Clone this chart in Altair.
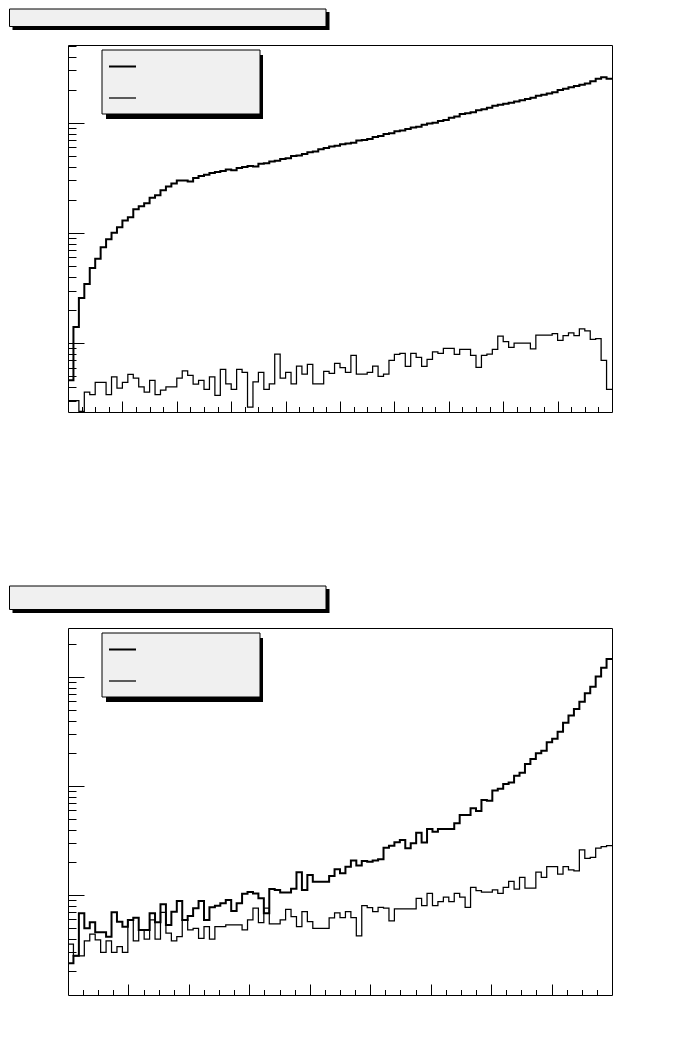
import altair as alt
import numpy as np
import pandas as pd

# ---------------- data (bin contents, 100 bins per histogram) ----------------
thick1 = [4.6, 14.0, 25.7, 34.4, 48, 58.3, 74.3, 87.9, 100.4, 112.8, 129.7, 139, 164, 175, 186,
          209, 220, 244, 264, 282, 300, 299, 294, 316, 330, 337, 351,
          358, 365, 378, 372, 390, 398, 405, 402, 425, 430, 445, 452, 470, 478, 500, 505, 520,
          540, 548, 575, 590, 610, 618, 640, 648, 660, 690, 700, 712, 745, 760, 790, 805, 840,
          850, 880, 905, 920, 960, 985, 1000, 1040, 1060, 1110, 1140, 1200, 1220, 1250, 1300,
          1330, 1370, 1430, 1460, 1490, 1520, 1560, 1600, 1650, 1690, 1760, 1800, 1850, 1900,
          1990, 2040, 2100, 2160, 2220, 2280, 2380, 2520, 2600, 2520]
thin1 = [3.0, 3.0, 2.4, 3.6, 3.4, 4.4, 4.4, 3.4, 4.95, 3.9, 4.4, 5.2, 4.8, 4.0, 3.6, 4.6, 3.4,
         3.75, 4.0, 4.0, 4.8, 5.6, 5.1, 4.25, 4.6, 3.8, 4.95,
         3.36, 5.78, 4.26, 3.81, 5.78, 5.43, 2.62, 4.44, 5.43, 3.81, 4.26, 7.95, 4.8, 5.43,
         4.26, 6.19, 5.24, 6.42, 4.26, 4.26, 5.54, 5.32, 6.55, 5.98,
         5.43, 7.74, 5.24, 5.24, 5.43, 6.19, 5.0, 5.24, 6.97, 7.9, 8.07, 6.15, 8.07, 7.42, 6.15,
         7.12, 8.34, 8.07, 8.96, 8.96, 7.9, 8.77, 8.77, 7.74, 6.03, 7.74, 7.95, 8.77, 11.6, 10.3,
         9.14, 10.0, 10.0, 10.0, 8.88, 11.8, 11.8, 11.8, 12.2, 10.6, 11.7, 12.4, 11.7, 13.5,
         12.9, 10.8, 11.0, 6.97, 3.81]
thick2 = [2.38, 2.79, 6.84, 4.98, 5.65, 4.58, 4.58, 4.17, 6.98, 5.72, 5.15, 5.93, 6.23, 4.81,
          4.81, 6.84, 5.65, 8.27, 5.34, 7.07, 8.87, 5.93, 6.46, 7.6, 8.87, 5.93, 7.76, 8.03,
          8.45, 9.06, 7.18, 8.45, 10.3, 10.7, 10.4, 9.38, 6.84, 11.4, 11.2, 10.6, 10.6, 11.5,
          16.3, 11.2, 15.3, 13.3, 13.3, 13.3, 15.0, 17.3, 15.9,
          18.3, 20.8, 18.7, 20.6, 20.3, 20.8, 21.4, 27.3, 28.5, 30.6, 32.2, 27.0, 30.0, 37.5,
          30.4, 40.6, 38.3, 40.6, 40.6, 40.6, 45.8, 54.5, 54.5, 62.8, 59.3, 74.8, 73.8, 91.2,
          95.1, 105, 108, 125, 133, 160, 178, 201, 212, 253, 273, 317, 383, 445, 512, 597, 713,
          820, 1014, 1225, 1472]
thin2 = [3.57, 2.78, 2.78, 3.81, 4.39, 3.89, 3.0, 3.81, 3.0, 3.37, 3.0, 5.93, 3.81, 4.81, 3.95,
         5.93, 3.95, 6.98, 4.5, 3.81, 4.17, 5.93, 4.81, 4.98, 4.03, 5.15, 3.95, 5.15, 5.15, 5.34,
         5.34, 5.34, 4.81, 5.93, 7.6, 5.6, 7.6, 5.45, 5.45, 5.93, 7.44, 6.36, 5.15, 7.07, 5.72,
         4.98, 4.98, 4.98, 6.19, 6.9, 6.24,
         7.07, 6.24, 4.24, 8.03, 7.69, 7.07, 7.76, 7.6, 5.81, 7.48, 7.48, 7.48, 7.48, 9.38, 8.03,
         10.4, 8.03, 8.74, 9.59, 8.74, 10.4, 9.59, 7.76, 11.8, 11.0, 10.7, 10.7, 11.2, 10.4, 11.8,
         13.4, 11.4, 14.6, 11.6, 11.6, 16.3, 14.6, 18.3, 18.3, 15.6, 18.3, 17.1, 16.7, 26.1,
         21.8, 22.3, 27.0, 27.9, 28.5]

x_range1 = [0.0, 10.0]
x_range2 = [0.0, 9.0]
y_range1 = [2.37, 5090]
y_range2 = [1.216, 2830]
y_ticks1 = [3, 4, 5, 6, 7, 8, 9, 10, 20, 30, 40, 50, 60, 70, 80, 90, 100, 200, 300, 400, 500,
            600, 700, 800, 900, 1000, 2000, 3000, 4000, 5000]
y_ticks2 = [2, 3, 4, 5, 6, 7, 8, 9, 10, 20, 30, 40, 50, 60, 70, 80, 90, 100, 200, 300, 400,
            500, 600, 700, 800, 900, 1000, 2000]

W, H = 544, 367
BOXFILL = "#f0f0f0"
one = pd.DataFrame({"k": [0]})


def hist_df(vals, xr):
    n = len(vals)
    edges = np.linspace(xr[0], xr[1], n + 1)
    return pd.DataFrame({"x": [float(e) for e in edges], "v": list(vals) + [vals[-1]]})


def deco_rect(x1, x2, y1, y2, fill, stroke=False):
    kw = dict(fill=fill)
    if stroke:
        kw.update(stroke="black", strokeWidth=1)
    return alt.Chart(one).mark_rect(**kw).encode(
        x=alt.value(x1), x2=alt.value(x2), y=alt.value(y1), y2=alt.value(y2))


def deco_rule(x1, x2, y, w):
    return alt.Chart(one).mark_rule(color="black", strokeWidth=w).encode(
        x=alt.value(x1), x2=alt.value(x2), y=alt.value(y))


def panel(thick, thin, xr, yr, yticks, title_top):
    xs = alt.Scale(domain=xr, nice=False, zero=False)
    ys = alt.Scale(type="log", domain=yr, nice=False, clamp=True)
    xvals = [float(v) for v in np.arange(0.25, xr[1], 0.25)]
    xaxis = alt.Axis(orient="top", offset=-H, values=xvals, labels=False, domain=False,
                     grid=False, title="", tickColor="black", tickWidth=1,
                     tickSize={"condition": {"test": "datum.value % 1 === 0", "value": 11},
                               "value": 5.5})
    yaxis = alt.Axis(orient="right", offset=-W, values=yticks, labels=False, domain=False,
                     grid=False, title="", tickColor="black", tickWidth=1,
                     tickSize={"condition": {"test": "datum.value === 10 || datum.value === 100 || datum.value === 1000",
                                             "value": 16},
                               "value": 8})
    enc = dict(x=alt.X("x:Q", scale=xs, axis=xaxis), y=alt.Y("v:Q", scale=ys, axis=yaxis))
    l_thick = alt.Chart(hist_df(thick, xr)).mark_line(
        interpolate="step-after", color="black", strokeWidth=2, clip=True).encode(**enc)
    l_thin = alt.Chart(hist_df(thin, xr)).mark_line(
        interpolate="step-after", color="black", strokeWidth=1.25, clip=True).encode(**enc)
    layers = [
        deco_rect(-55.5, 261.5, title_top + 3, -15, "black"),
        deco_rect(-58.5, 258, title_top, -18.5, BOXFILL, stroke=True),
        l_thick, l_thin,
        deco_rect(38, 195, 10, 74, "black"),
        deco_rect(34, 192, 5, 69, BOXFILL, stroke=True),
        deco_rule(41, 68, 21.5, 2),
        deco_rule(41, 68, 53, 1.25),
    ]
    return alt.layer(*layers).properties(width=W, height=H)


p1 = panel(thick1, thin1, x_range1, y_range1, y_ticks1, -36)
p2 = panel(thick2, thin2, x_range2, y_range2, y_ticks2, -42)

chart = (
    alt.vconcat(p1, p2, spacing=172)
    .resolve_scale(x="independent", y="independent")
    .properties(padding={"left": 0, "top": 0, "right": 4, "bottom": 4}, background="white")
    .configure_view(stroke="black", strokeWidth=1)
)

chart.save("out.html", embed_options={"renderer": "svg", "actions": False})
